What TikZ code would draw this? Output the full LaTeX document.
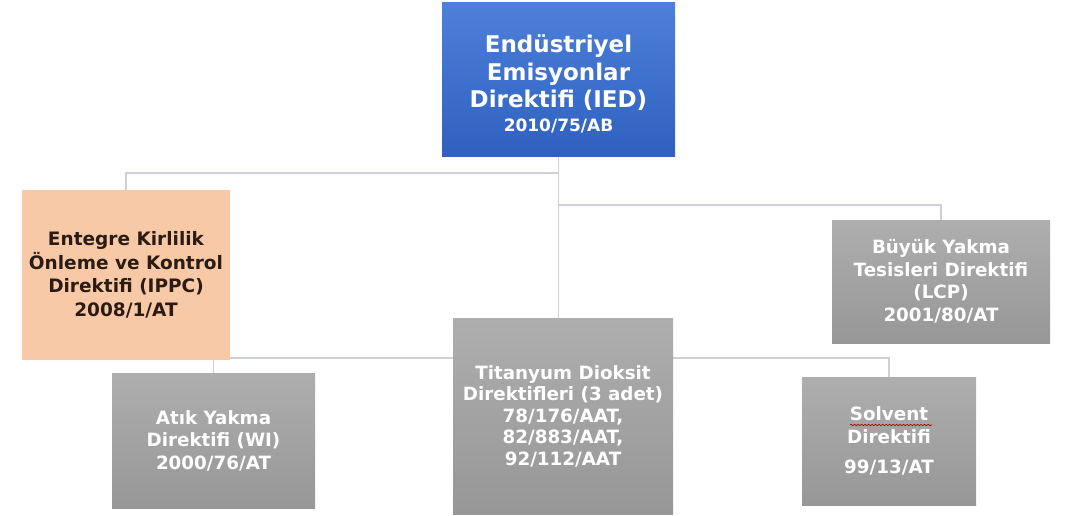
\documentclass[tikz,border=0pt]{standalone}
\usepackage{fontspec}
\setmainfont{DejaVu Sans}
\usetikzlibrary{backgrounds,decorations.pathmorphing}
\definecolor{bluetop}{HTML}{4C80D9}
\definecolor{bluebot}{HTML}{2F60C0}
\definecolor{greytop}{HTML}{AEAEAE}
\definecolor{greybot}{HTML}{979797}
\definecolor{peach}{HTML}{F8C9A7}
\definecolor{darktext}{HTML}{2A1C14}
\definecolor{connclr}{HTML}{CDD0D6}
\tikzset{
  boxbase/.style={draw=none, inner sep=0pt, align=center, anchor=center},
  bluebox/.style={boxbase, top color=bluetop, bottom color=bluebot},
  bluetext/.style={boxbase, text=white, font=\fontsize{23}{27.5}\selectfont\bfseries},
  greybox/.style={boxbase, top color=greytop, bottom color=greybot, text=white,
     font=\fontsize{18.3}{22.5}\selectfont\bfseries},
  peachbox/.style={boxbase, fill=peach, text=darktext,
     font=\fontsize{18.5}{23.5}\selectfont\bfseries},
  conn/.style={draw=connclr, line width=1.4pt}
}
\begin{document}
\begin{tikzpicture}[x=1pt,y=-1pt]
\useasboundingbox (0,0) rectangle (1077,516);

\node[bluebox, minimum width=233pt, minimum height=154pt] (ied) at (558.5,80) {};
\node[bluetext] (iedtext) at ([yshift=-4pt]ied.center)
  {Endüstriyel\\Emisyonlar\\Direktifi (IED)\\[-4pt]{\fontsize{17}{20}\selectfont 2010/75/AB}};

\node[peachbox, minimum width=208pt, minimum height=170pt] (ippc) at (126,275)
  {Entegre Kirlilik\\Önleme ve Kontrol\\Direktifi (IPPC)\\2008/1/AT};

\node[greybox, minimum width=218pt, minimum height=123pt] (lcp) at (941,281.5)
  {Büyük Yakma\\Tesisleri Direktifi\\(LCP)\\2001/80/AT};

\node[greybox, minimum width=203pt, minimum height=135pt] (wi) at (213.5,440.5)
  {Atık Yakma\\Direktifi (WI)\\2000/76/AT};

\node[greybox, minimum width=220pt, minimum height=196pt,
      font=\fontsize{18.3}{21.5}\selectfont\bfseries] (tio) at (563,416)
  {Titanyum Dioksit\\Direktifleri (3 adet)\\78/176/AAT,\\82/883/AAT,\\92/112/AAT};

\node[greybox, minimum width=174pt, minimum height=128pt] (sol) at (889,441)
  {Solvent\\Direktifi\\[8pt]99/13/AT};

\draw[red!70!black, line width=0.7pt, decorate,
      decoration={snake, amplitude=0.7pt, segment length=3.5pt}]
  (850,425) -- (932,425);

\coordinate (h1) at (0,173);
\coordinate (h2) at (0,205);
\coordinate (h3) at (0,358);

\begin{scope}[on background layer]
  \fill[white] (0,0) rectangle (1077,516);
  \draw[conn] (ied.south) -- (ied.south |- tio.north);
  \draw[conn] (ied.south |- h1) -| (ippc.north);
  \draw[conn] (ied.south |- h2) -| (lcp.north);
  \draw[conn] (wi.north) -- (wi.north |- h3) -- (sol.north |- h3) -- (sol.north);
\end{scope}
\end{tikzpicture}
\end{document}
